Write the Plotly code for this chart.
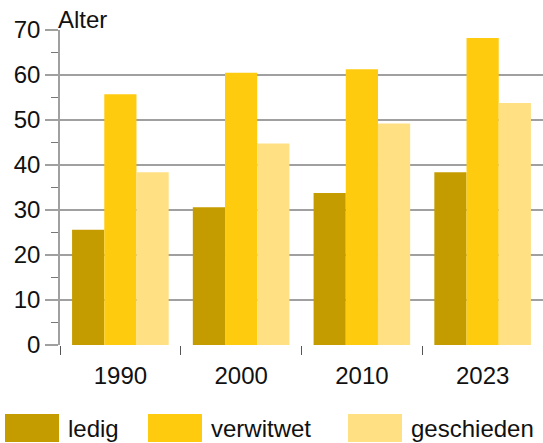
import plotly.graph_objects as go

years = ["1990", "2000", "2010", "2023"]
series_names = ["ledig", "verwitwet", "geschieden"]
ledig = [25.6, 30.6, 33.8, 38.4]
verwitwet = [55.7, 60.5, 61.3, 68.2]
geschieden = [38.4, 44.8, 49.2, 53.8]
colors = ["#C59C00", "#FFCB0F", "#FFE083"]
y_ticks = [0, 10, 20, 30, 40, 50, 60, 70]

W, H = 543, 443
ML, MR, MT, MB = 60, 0, 30, 98
FONT = "Liberation Sans, Arial, sans-serif"
FS = 24

fig = go.Figure()
for name, vals, c in zip(series_names, [ledig, verwitwet, geschieden], colors):
    fig.add_trace(go.Bar(x=years, y=vals, name=name, marker_color=c,
                         marker_line_width=0, showlegend=False, hoverinfo="skip"))

pw = W - ML - MR
ph = H - MT - MB
def px2paper_x(px):
    return (px - ML) / pw
def px2paper_y(py):
    return (H - MB - py) / ph

# manual legend with large swatches
legend_sw_x = [5, 148, 348]
sw_w, sw_top, sw_bot = 54, 414, 442
shapes = []
annotations = []
for name, c, sx in zip(series_names, colors, legend_sw_x):
    shapes.append(dict(type="rect", xref="paper", yref="paper",
                       x0=px2paper_x(sx), x1=px2paper_x(sx + sw_w),
                       y0=px2paper_y(sw_bot), y1=px2paper_y(sw_top),
                       fillcolor=c, line_width=0, layer="above"))
    annotations.append(dict(text=name, xref="paper", yref="paper",
                            x=px2paper_x(sx + sw_w + 7), y=px2paper_y((sw_top + sw_bot) / 2),
                            xanchor="left", yanchor="middle", showarrow=False,
                            font=dict(size=FS, color="#111", family=FONT)))
annotations.append(dict(text="Alter", xref="paper", yref="paper", x=0, y=1,
                        xanchor="left", yanchor="bottom", xshift=-4, yshift=-5,
                        showarrow=False, font=dict(size=FS, color="#111", family=FONT)))

fig.update_layout(
    width=W, height=H,
    margin=dict(l=ML, r=MR, t=MT, b=MB),
    paper_bgcolor="white", plot_bgcolor="white",
    barmode="group", bargap=0.2, bargroupgap=0,
    font=dict(family=FONT, size=FS, color="#111"),
    shapes=shapes, annotations=annotations,
    showlegend=False,
)
fig.update_xaxes(type="category", showgrid=False, ticks="outside", tickson="boundaries",
                 ticklen=9, tickcolor="#555", tickwidth=1, showline=False,
                 ticklabelstandoff=14,
                 tickfont=dict(size=FS, color="#111", family=FONT))
fig.update_yaxes(range=[0, 70], tickvals=y_ticks, showgrid=True, gridcolor="#A0A0A0",
                 gridwidth=1.5, ticks="outside", ticklen=13, tickcolor="#A0A0A0", tickwidth=1.5,
                 showline=True, linecolor="#A0A0A0", linewidth=1.5,
                 zeroline=False,
                 minor=dict(ticks="outside", ticklen=7, dtick=5, tickcolor="#777", tickwidth=1,
                            showgrid=False),
                 tickfont=dict(size=FS, color="#111", family=FONT))

fig.write_html("out.html", config={"displayModeBar": False},
               post_script="document.body.style.margin='0px';document.body.style.overflow='hidden';")
